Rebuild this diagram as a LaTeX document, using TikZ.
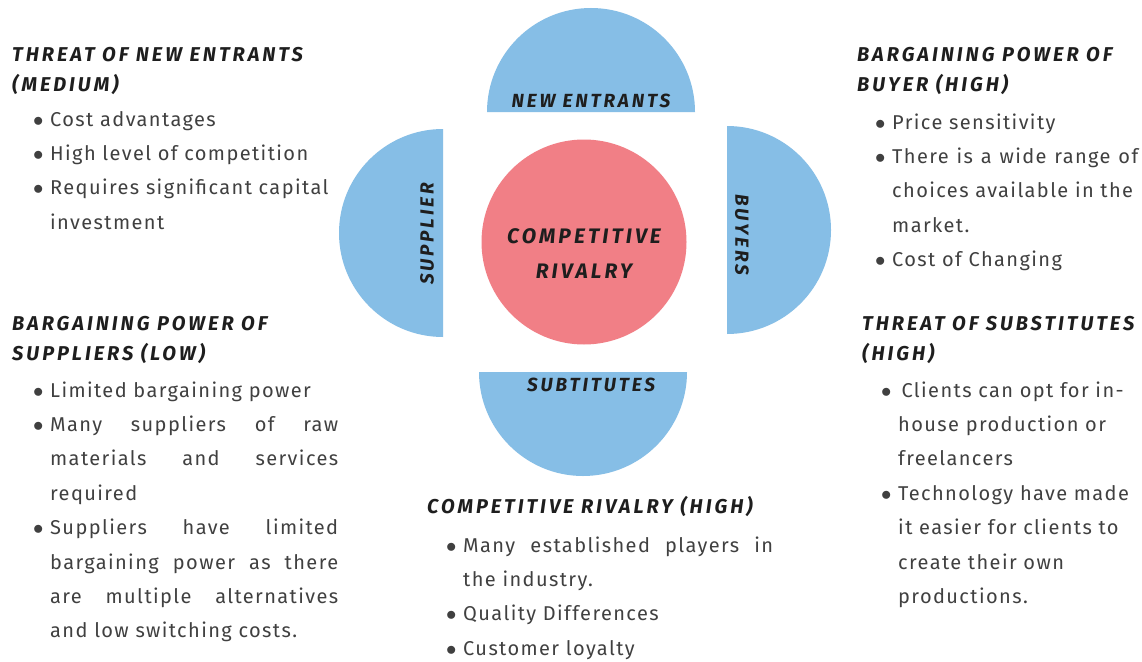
\documentclass[tikz,border=0pt]{standalone}
\usepackage{fontspec}
\usepackage{xcolor}
\setmainfont{Fira Sans}
\newfontfamily\bodyfont[LetterSpace=7]{Fira Sans}
\newfontfamily\headfont[LetterSpace=15]{Fira Sans}
\definecolor{forceblue}{HTML}{86BEE6}
\definecolor{rivalpink}{HTML}{F17F86}
\definecolor{bodygray}{HTML}{404040}
\definecolor{headblack}{HTML}{1E1E1E}
\newcommand{\bitem}[1]{\par\hangindent=17pt\hangafter=1\noindent\makebox[17pt][l]{$\bullet$}#1\par}
\tikzset{
  force/.style={fill=forceblue},
  flabel/.style={font=\headfont\bfseries\itshape\fontsize{19}{19}\selectfont, text=headblack, inner sep=0},
  heading/.style={anchor=base west, inner sep=0, align=left, text=headblack,
    font=\headfont\bfseries\itshape\fontsize{20}{30}\selectfont},
  points/.style={anchor=base west, inner sep=0, text=bodygray,
    font=\bodyfont\fontsize{20}{34.4}\selectfont}
}
\begin{document}
\begin{tikzpicture}[x=1pt,y=-1pt]
    \useasboundingbox[fill=white] (0,0) rectangle (1142,661);
    % the four forces
    \fill[force] (487,112) arc[start angle=180, end angle=360, radius=104] -- cycle;
    \fill[force] (479,372) arc[start angle=180, end angle=0, radius=104] -- cycle;
    \fill[force] (443,129) arc[start angle=270, end angle=90, radius=104] -- cycle;
    \fill[force] (727,126) arc[start angle=270, end angle=450, radius=104] -- cycle;
    \node[circle, fill=rivalpink, minimum size=205pt, inner sep=0] (rival) at (584,242) {};
    \node[flabel, align=center, font=\headfont\bfseries\itshape\fontsize{21}{35}\selectfont] (rivaltext) at (584,254) {COMPETITIVE\\RIVALRY};
    \node[flabel] (entrants) at (591,101) {NEW ENTRANTS};
    \node[flabel] (substitutes) at (591,385) {SUBTITUTES};
    \node[flabel, rotate=90] (supplier) at (427,234) {SUPPLIER};
    \node[flabel, rotate=-90] (buyers) at (742,235) {BUYERS};
    % threat of new entrants
    \node[heading] (newhead) at (12,91) {THREAT OF NEW ENTRANTS\\(MEDIUM)};
    \node[points] (newlist) at (33,126) {\parbox[t]{305pt}{%
      \bitem{Cost advantages}
      \bitem{High level of competition}
      \bitem{Requires significant capital\\investment}}};
    % suppliers
    \node[heading] (suphead) at (12,360) {BARGAINING POWER OF\\SUPPLIERS (LOW)};
    \node[points] (suplist) at (33,397) {\parbox[t]{305pt}{%
      \bitem{Limited bargaining power}
      \bitem{Many suppliers of raw\linebreak materials and services\linebreak required}
      \bitem{Suppliers have limited\linebreak bargaining power as there\linebreak are multiple alternatives\linebreak and low switching costs.}}};
    % rivalry
    \node[heading] (rivhead) at (427,513) {COMPETITIVE RIVALRY (HIGH)};
    \node[points] (rivlist) at (446,552) {\parbox[t]{327pt}{%
      \bitem{Many established players in\linebreak the industry.}
      \bitem{Quality Differences}
      \bitem{Customer loyalty}}};
    % buyers
    \node[heading] (buyhead) at (857,92) {BARGAINING POWER OF\\BUYER (HIGH)};
    \node[points] (buylist) at (875,129) {\parbox[t]{263pt}{%
      \bitem{Price sensitivity}
      \bitem{There is a wide range of\linebreak choices available in the\\market.}
      \bitem{Cost of Changing}}};
    % substitutes
    \node[heading] (subhead) at (862,360) {THREAT OF SUBSTITUTES\\(HIGH)};
    \node[points] (sublist) at (881,397) {\parbox[t]{257pt}{%
      \bitem{\,Clients can opt for in-\\house production or\\freelancers}
      \bitem{Technology have made\\it easier for clients to\\create their own\\productions.}}};
\end{tikzpicture}
\end{document}
